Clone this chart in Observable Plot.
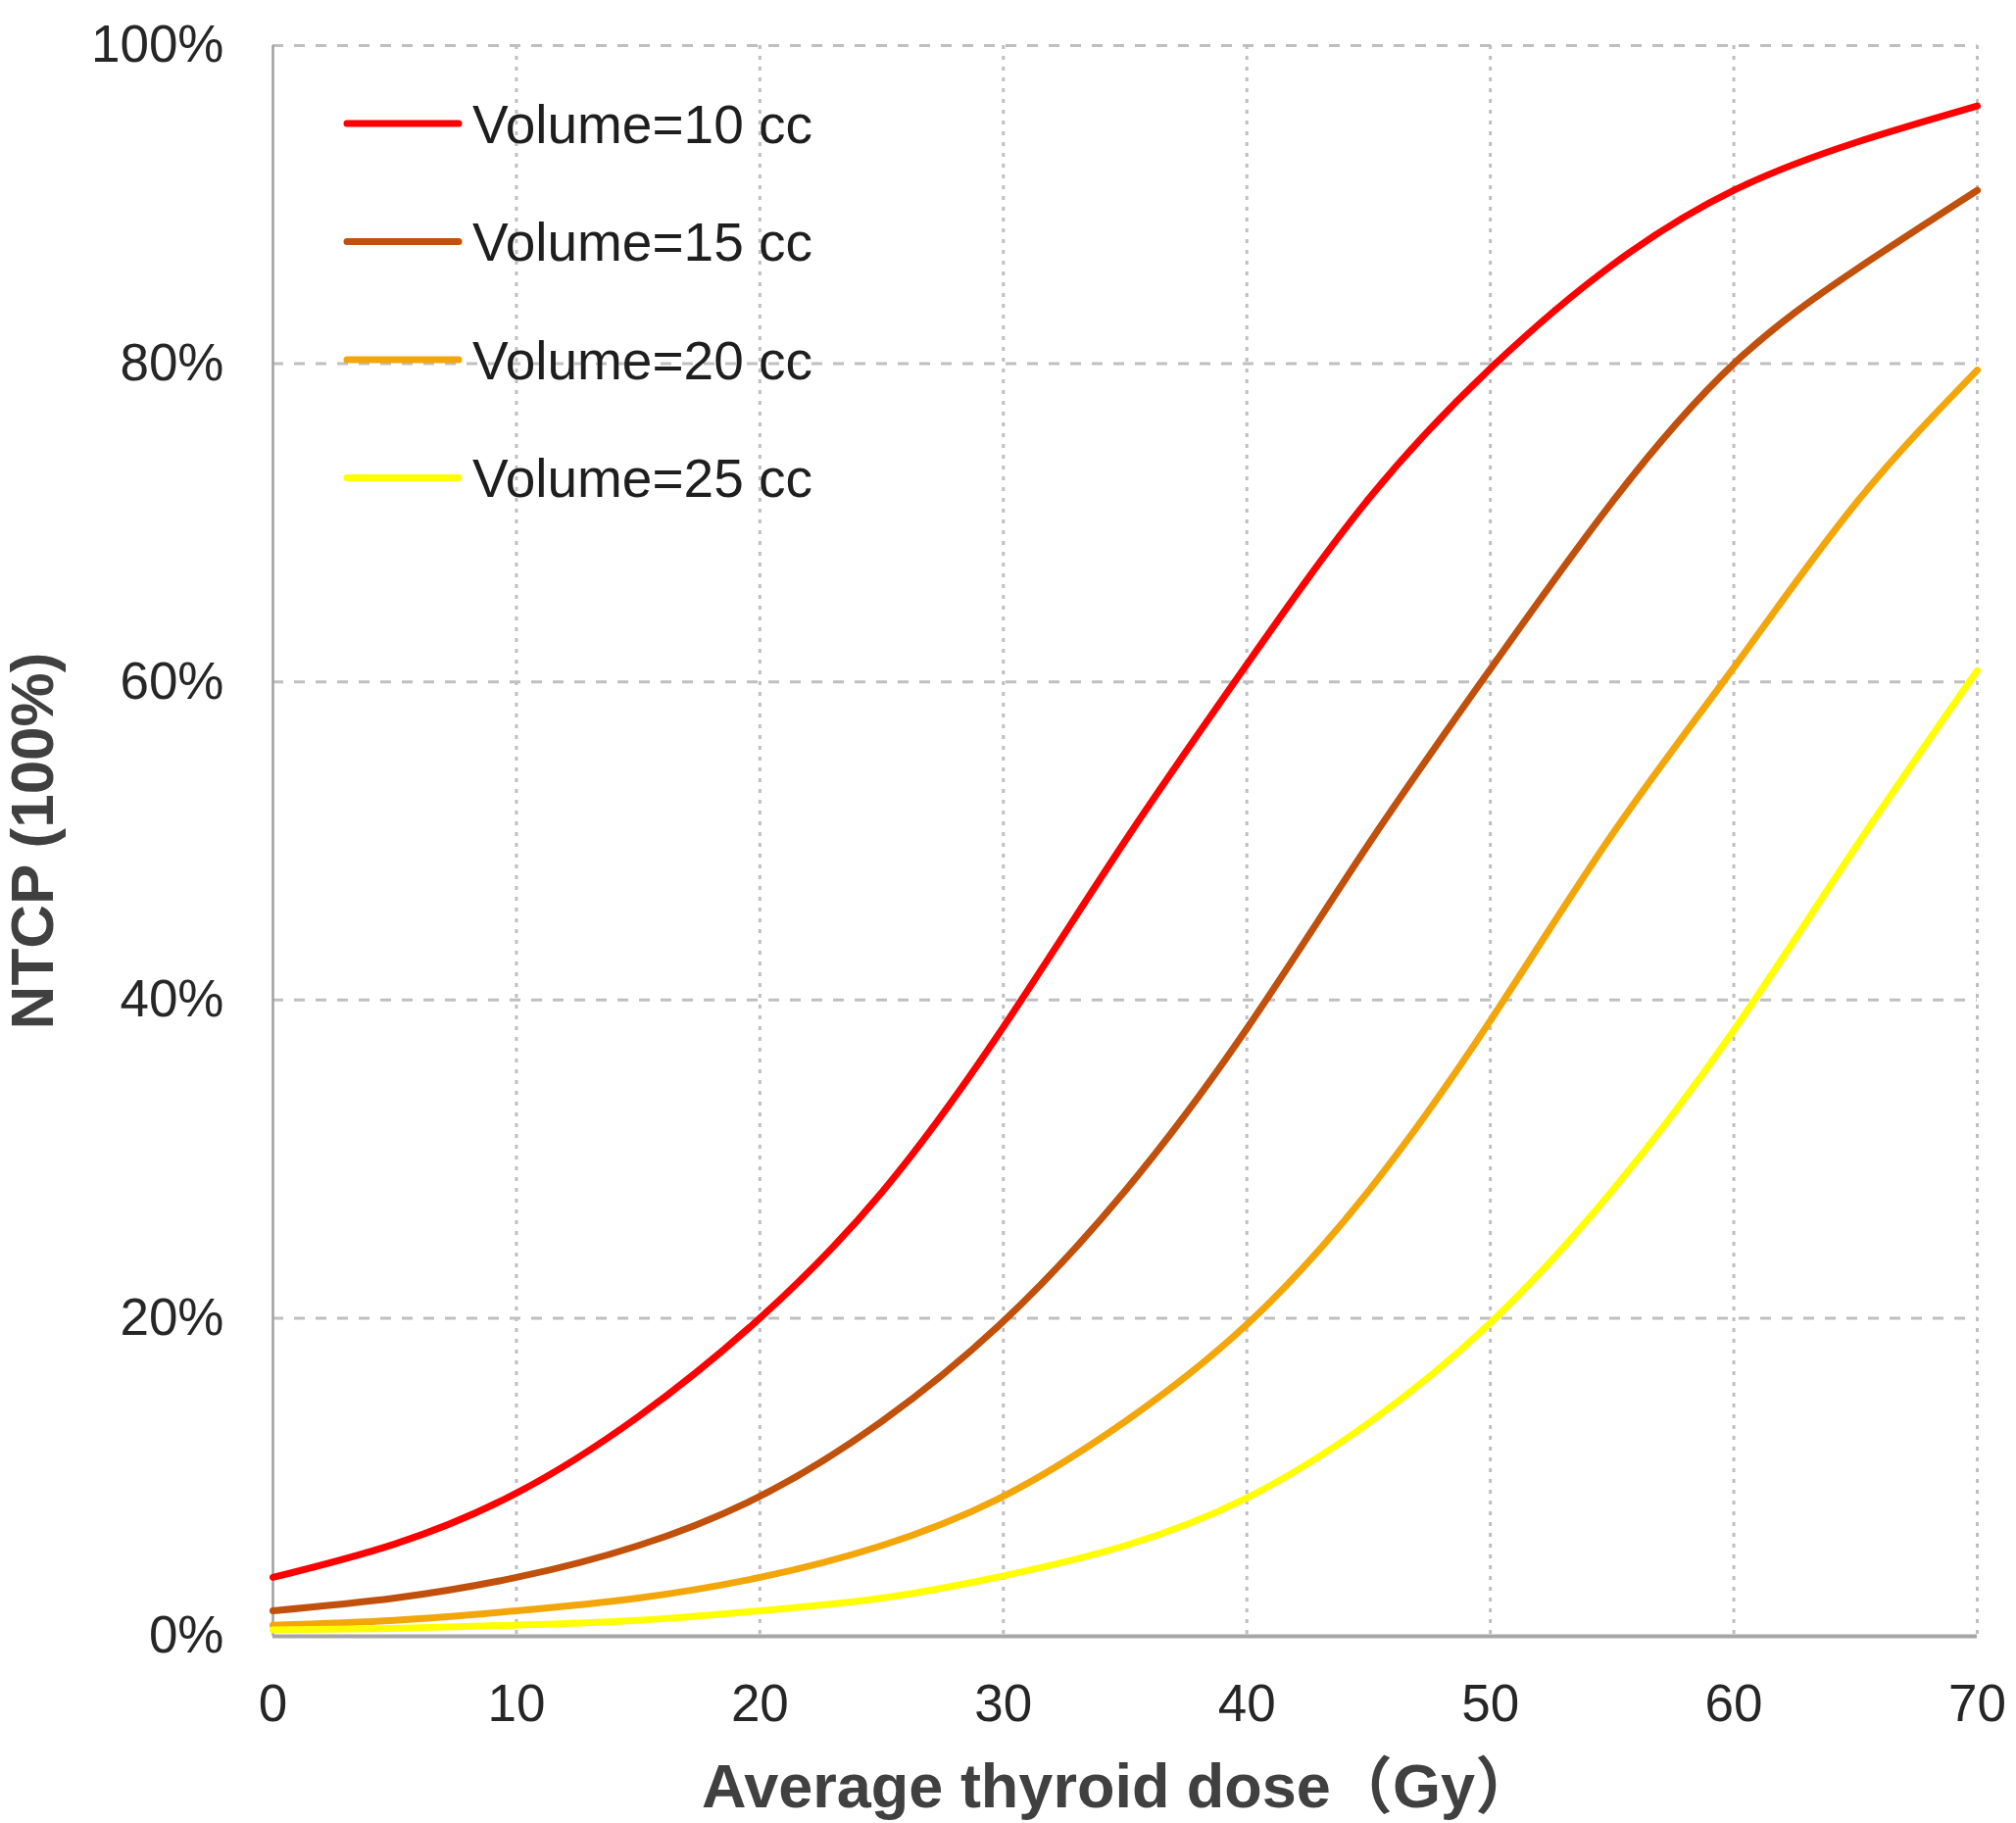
<!DOCTYPE html>
<html><head><meta charset="utf-8">
<script src="https://cdn.jsdelivr.net/npm/d3@7"></script>
<script src="https://cdn.jsdelivr.net/npm/@observablehq/plot@0.6"></script>
<style>
body{margin:0;background:#fff;}
#wrap{position:relative;width:2057px;height:1860px;}
</style></head><body><div id="wrap"></div>
<script>
const dose = [0, 5, 10, 15, 20, 25, 30, 35, 40, 45, 50, 55, 60, 65, 70];
const ntcp10 = [3.7, 5.8, 9.0, 13.8, 20.0, 27.9, 38.3, 50.0, 61.1, 71.5, 79.7, 86.2, 90.9, 93.9, 96.2];
const ntcp15 = [1.6, 2.4, 3.7, 5.7, 8.8, 13.5, 19.8, 28.0, 38.2, 49.8, 60.8, 71.3, 80.0, 85.9, 90.9];
const ntcp20 = [0.7, 1.0, 1.6, 2.4, 3.7, 5.7, 8.8, 13.5, 19.6, 28.0, 38.7, 50.4, 60.9, 71.2, 79.6];
const ntcp25 = [0.4, 0.5, 0.7, 1.0, 1.6, 2.4, 3.8, 5.7, 8.7, 13.4, 19.7, 28.0, 38.1, 49.6, 60.7];
const volumes = ["Volume=10 cc", "Volume=15 cc", "Volume=20 cc", "Volume=25 cc"];
const colors = ["#ff0000", "#c0500c", "#f2a60a", "#ffff00"];
const xTicks = [0, 10, 20, 30, 40, 50, 60, 70];
const yTicks = [0, 20, 40, 60, 80, 100];
const xLabel = "Average thyroid dose（Gy）";
const yLabel = "NTCP (100%)";

const series = [ntcp10, ntcp15, ntcp20, ntcp25];
const data = series.flatMap((vals, i) => vals.map((v, j) => ({dose: dose[j], ntcp: v, volume: volumes[i]})));

const FONT = "'Liberation Sans', Arial, 'Noto Sans CJK SC', sans-serif";

const plot = Plot.plot({
  width: 2057, height: 1860,
  marginLeft: 278, marginRight: 40, marginTop: 46, marginBottom: 191,
  style: {fontFamily: FONT, background: "#fff", overflow: "visible"},
  x: {domain: [0, 70]},
  y: {domain: [0, 100]},
  color: {domain: volumes, range: colors},
  marks: [
    Plot.gridX({ticks: xTicks.filter(d => d > 0), stroke: "#bfbfbf", strokeOpacity: 1, strokeWidth: 3, strokeDasharray: "4,7"}),
    Plot.gridY({ticks: yTicks.filter(d => d > 0), stroke: "#bfbfbf", strokeOpacity: 1, strokeWidth: 3, strokeDasharray: "11,11"}),
    Plot.ruleX([0], {stroke: "#a0a0a0", strokeWidth: 2.5}),
    Plot.ruleY([0], {stroke: "#a6a6a6", strokeWidth: 4}),
    Plot.axisX({ticks: xTicks, tickSize: 0, tickPadding: 49, fontSize: 53, fill: "#262626", label: null}),
    Plot.axisY({ticks: yTicks, tickSize: 0, tickPadding: 50, fontSize: 53, fill: "#262626", tickFormat: d => d + "%", label: null}),
    Plot.line(data, {x: "dose", y: "ntcp", z: "volume", stroke: "volume", strokeWidth: 7, curve: "natural"}),
    Plot.text([xLabel], {text: d => d, frameAnchor: "bottom", dy: 154, dx: -6, fontSize: 63, fontWeight: "bold", fill: "#404040", lineAnchor: "middle", textAnchor: "middle"}),
    Plot.text([yLabel], {text: d => d, frameAnchor: "left", dx: -244, rotate: -90, fontSize: 62, fontWeight: "bold", fill: "#404040", lineAnchor: "middle", textAnchor: "middle"})
  ]
});
document.getElementById("wrap").appendChild(plot);

const leg = d3.select("#wrap").append("svg")
  .attr("width", 1000).attr("height", 560)
  .style("position", "absolute").style("left", "0px").style("top", "0px")
  .style("overflow", "visible")
  .style("pointer-events", "none");
volumes.forEach((v, i) => {
  const y = 126 + i * 120.5;
  leg.append("line").attr("x1", 354).attr("x2", 468).attr("y1", y).attr("y2", y)
    .attr("stroke", colors[i]).attr("stroke-width", 7).attr("stroke-linecap", "round");
  leg.append("text").attr("x", 482).attr("y", y).attr("dy", "0.36em")
    .attr("font-size", 55).attr("font-family", FONT).attr("fill", "#1e1e1e").text(v);
});
</script>
</body></html>
